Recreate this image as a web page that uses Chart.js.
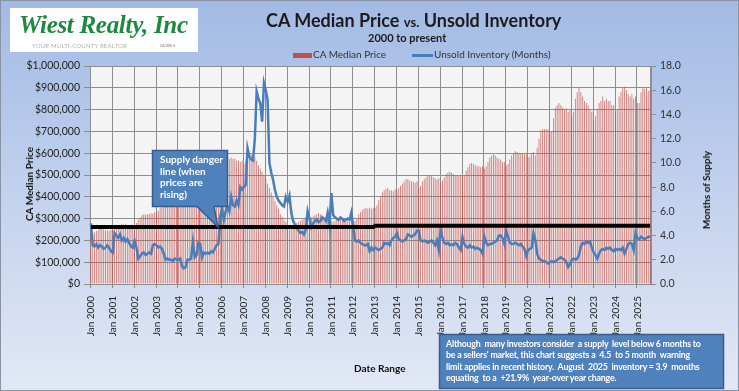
<!DOCTYPE html>
<html>
<head>
<meta charset="utf-8">
<title>CA Median Price vs. Unsold Inventory</title>
<script src="https://cdn.jsdelivr.net/npm/chart.js@4.4.1/dist/chart.umd.min.js"></script>
<style>
  html, body { margin: 0; padding: 0; }
  body { width: 739px; height: 391px; overflow: hidden; font-family: Lato, "Liberation Sans", sans-serif; }
  #wrap { position: relative; width: 739px; height: 391px;
    background: linear-gradient(180deg, #a2bae4 0%, #bccdec 40%, #d3ddf1 75%, #e2e8f5 100%); }
  #chart { position: absolute; left: 0; top: 0; }
  .frame { position: absolute; left: 0; top: 0; width: 737px; height: 389px; border: 1px solid #8a93a6; pointer-events: none; }
  .abs { position: absolute; white-space: nowrap; }
  #logo { left: 10px; top: 8px; width: 188px; height: 44px; background: #fff; }
  #logo .name { left: 9px; top: 3px; font-family: "Liberation Serif", serif; font-style: italic; font-weight: bold;
    font-size: 25px; color: #1c8a3e; letter-spacing: -0.3px; }
  #logo .tag { left: 22px; top: 34px; font-size: 6px; color: #b0b0b0; letter-spacing: 0.2px; }
  #logo .dre { left: 150px; top: 36px; font-size: 3.5px; color: #777; }
  #title { left: 266px; top: 9px; font-size: 18px; font-weight: bold; color: #1b1b1b; }
  #title small { font-size: 13px; }
  #subtitle { left: 368px; top: 31px; font-size: 11px; font-weight: bold; color: #1b1b1b; }
  .leg { font-size: 10px; color: #333; top: 48px; }
  .rot { font-size: 10px; font-weight: bold; color: #111; transform: translate(-50%, -50%) rotate(-90deg); }
  #xtitle { left: 354px; top: 362px; font-size: 10px; font-weight: bold; color: #111; }
  .callout-text { color: #fff; font-weight: bold; font-size: 10px; line-height: 11.6px; }
  #note { left: 446px; top: 338px; color: #fff; font-size: 8.8px; font-weight: bold; letter-spacing: -0.2px;
    line-height: 11.3px; white-space: pre; }
</style>
</head>
<body>
<div id="wrap">
  <canvas id="chart" width="739" height="391"></canvas>

  <div id="logo" class="abs">
    <div class="abs name">Wiest Realty, Inc</div>
    <div class="abs tag">YOUR MULTI-COUNTY REALTOR</div>
    <div class="abs dre">CA DRE #</div>
  </div>

  <div id="title" class="abs">CA Median Price <small>vs.</small> Unsold Inventory</div>
  <div id="subtitle" class="abs">2000 to present</div>

  <div class="abs" style="left:293px;top:53px;width:19px;height:5px;background:#c0504d;"></div>
  <div class="abs leg" style="left:313px;">CA Median Price</div>
  <div class="abs" style="left:412px;top:54px;width:21px;height:3px;background:#4a7ebb;"></div>
  <div class="abs leg" style="left:434px;">Unsold Inventory (Months)</div>

  <div class="abs rot" style="left:29px;top:184px;">CA Median Price</div>
  <div class="abs rot" style="left:706px;top:190px;">Months of Supply</div>
  <div id="xtitle" class="abs">Date Range</div>

  <svg class="abs" style="left:0;top:0;" width="739" height="391">
    <path d="M152.5 150.5 H227.5 V206.5 H214 L218 227 L197 206.5 H152.5 Z" fill="#4f81bd" stroke="#385d8a" stroke-width="1.5"/>
    <rect x="439.5" y="334.5" width="284" height="54" fill="#4f81bd" stroke="#385d8a" stroke-width="1.5"/>
  </svg>
  <div class="abs callout-text" style="left:160px;top:154px;">Supply danger<br>line (when<br>prices are<br>rising)</div>
  <div id="note" class="abs">Although  many investors consider  a supply  level below 6 months to
be a sellers' market, this chart suggests a  4.5  to 5 month  warning
limit applies in recent history.  August  2025  inventory = 3.9  months
equating  to a  +21.9%  year-over year change.</div>

  <div class="frame"></div>
</div>

<script>
// 月份 / 年份
const years = [2000, 2001, 2002, 2003, 2004, 2005, 2006, 2007, 2008, 2009, 2010, 2011, 2012,
  2013, 2014, 2015, 2016, 2017, 2018, 2019, 2020, 2021, 2022, 2023, 2024, 2025];
const monthNames = ['Jan', 'Feb', 'Mar', 'Apr', 'May', 'Jun', 'Jul', 'Aug', 'Sep', 'Oct', 'Nov', 'Dec'];

// CA median price, thousands of dollars (Jan 2000 - Aug 2025)
const medianPriceK = [
  228, 231, 237, 243, 248, 256, 252, 250, 246, 247, 244, 250,
  248, 252, 260, 265, 270, 276, 272, 275, 270, 266, 265, 270,
  272, 280, 295, 305, 315, 320, 318, 320, 320, 325, 322, 330,
  328, 335, 350, 362, 370, 380, 385, 390, 395, 400, 397, 410,
  400, 410, 428, 445, 460, 470, 466, 462, 456, 455, 450, 460,
  458, 465, 490, 505, 515, 530, 530, 535, 540, 540, 535, 550,
  540, 545, 560, 565, 575, 580, 575, 575, 565, 565, 560, 565,
  550, 565, 575, 590, 594, 590, 580, 565, 545, 530, 515, 500,
  480, 460, 440, 420, 400, 380, 360, 345, 320, 310, 295, 285,
  270, 255, 260, 265, 270, 280, 285, 290, 295, 300, 305, 305,
  300, 305, 310, 315, 320, 325, 320, 315, 305, 305, 300, 305,
  290, 285, 290, 295, 300, 305, 300, 295, 290, 290, 285, 290,
  285, 290, 300, 320, 330, 340, 345, 350, 345, 350, 345, 350,
  350, 360, 385, 400, 420, 430, 435, 440, 430, 430, 425, 435,
  430, 440, 450, 460, 470, 480, 480, 475, 470, 470, 465, 470,
  440, 450, 470, 480, 490, 500, 500, 495, 490, 485, 480, 485,
  465, 475, 490, 505, 510, 515, 510, 505, 500, 500, 495, 500,
  490, 500, 520, 535, 550, 555, 550, 545, 540, 540, 535, 540,
  530, 540, 560, 580, 590, 595, 590, 580, 575, 570, 560, 560,
  545, 550, 570, 590, 600, 610, 605, 600, 595, 600, 595, 600,
  580, 585, 600, 605, 590, 625, 665, 705, 710, 710, 710, 710,
  700, 700, 760, 810, 820, 830, 820, 810, 800, 805, 790, 800,
  770, 790, 850, 880, 900, 880, 860, 840, 830, 820, 800, 790,
  750, 770, 800, 830, 840, 860, 840, 850, 840, 840, 820, 820,
  790, 800, 860, 880, 900, 905, 890, 870, 860, 870, 850, 860,
  830, 830, 880, 900, 895, 900, 885, 890
];

// unsold inventory, months of supply
const unsoldInventory = [
  5.0, 3.2, 3.1, 3.3, 3.0, 3.2, 3.1, 2.9, 3.0, 3.2, 3.0, 2.7,
  2.6, 4.2, 4.0, 3.8, 4.1, 3.6, 3.8, 3.5, 3.7, 3.4, 3.1, 3.0,
  3.6, 3.0, 2.1, 2.3, 2.5, 2.6, 2.4, 2.5, 2.6, 2.5, 3.2, 3.3,
  3.2, 3.0, 3.1, 2.9, 2.5, 2.0, 2.1, 2.0, 2.0, 1.9, 2.1, 2.0,
  2.0, 2.1, 1.5, 1.3, 1.4, 2.0, 2.0, 2.1, 3.5, 2.2, 2.4, 3.4,
  3.3, 2.2, 2.6, 2.5, 2.6, 2.5, 2.7, 2.6, 2.9, 3.2, 3.3, 5.6,
  6.2, 5.3, 6.0, 6.4, 6.0, 7.2, 6.5, 6.4, 6.9, 6.5, 8.0, 7.8,
  8.0, 8.2, 11.2, 10.5, 10.3, 10.2, 12.0, 15.9, 15.3, 14.9, 13.4, 16.6,
  16.0, 15.2, 10.0, 9.2, 8.6, 7.8, 7.2, 6.9, 6.7, 6.5, 6.4, 7.2,
  6.8, 7.3, 5.9, 5.2, 4.9, 4.7, 4.4, 4.2, 4.3, 4.1, 4.5, 6.0,
  5.4, 4.7, 5.0, 5.2, 5.3, 5.1, 5.2, 5.5, 5.4, 5.2, 5.9, 4.9,
  7.5, 5.7, 5.5, 5.4, 5.3, 5.5, 5.4, 5.2, 5.3, 5.4, 5.3, 5.9,
  4.7, 3.6, 3.5, 3.6, 3.4, 3.3, 3.2, 3.2, 3.3, 2.7, 3.0, 2.8,
  3.0, 2.9, 2.8, 2.9, 3.0, 3.4, 3.3, 3.4, 3.2, 3.6, 3.8, 3.9,
  4.2, 3.7, 3.6, 3.5, 3.6, 3.7, 4.1, 4.0, 3.9, 4.0, 4.1, 4.4,
  4.4, 3.6, 3.5, 3.6, 3.5, 3.4, 3.5, 3.6, 3.4, 3.2, 3.6, 2.8,
  4.5, 3.8, 3.4, 3.3, 3.4, 3.2, 3.3, 3.2, 3.4, 3.3, 3.0, 2.8,
  3.9, 3.3, 3.1, 3.0, 3.2, 3.0, 3.1, 2.9, 3.0, 2.9, 2.8, 2.5,
  3.9, 3.4, 3.2, 3.3, 3.3, 3.4, 3.5, 3.6, 4.0, 4.0, 3.8, 3.3,
  4.4, 3.9, 3.4, 3.3, 3.3, 3.4, 3.3, 3.2, 3.3, 3.1, 2.9, 2.3,
  2.8, 2.9, 3.0, 4.2, 3.6, 2.5, 2.1, 2.0, 1.9, 1.9, 1.8, 1.7,
  1.8, 1.9, 1.8, 1.9, 2.0, 2.1, 2.2, 2.1, 2.0, 1.8, 1.4, 1.6,
  2.0, 2.1, 2.0, 2.1, 2.4, 3.1, 3.4, 3.3, 3.5, 3.4, 3.5, 3.0,
  2.6, 2.4, 2.1, 2.5, 2.8, 2.9, 2.8, 3.0, 2.9, 3.0, 2.8, 2.7,
  2.9, 2.8, 2.9, 2.8, 3.0, 2.5, 2.9, 3.3, 3.4, 3.3, 2.8, 4.2,
  3.8, 3.7, 3.9, 3.8, 3.7, 3.8, 3.9, 3.9
];

// supply danger line (months)
const dangerLine = [
  { x: 'Jan 2000', y: 4.7 },
  { x: 'Dec 2012', y: 4.7 },
  { x: 'Jan 2013', y: 4.8 },
  { x: 'Aug 2025', y: 4.8 }
];

// axis ticks
const priceTicksK = [0, 100, 200, 300, 400, 500, 600, 700, 800, 900, 1000];
const supplyTicks = [0, 2, 4, 6, 8, 10, 12, 14, 16, 18];

const labels = [];
years.forEach(y => monthNames.forEach(m => labels.push(m + ' ' + y)));
labels.length = medianPriceK.length;

const gridGray = '#8e8e8e';

// 绘图区背景
const plotBg = {
  id: 'plotBg',
  beforeDraw(chart) {
    const { ctx, chartArea: a } = chart;
    ctx.save();
    ctx.fillStyle = '#f4f4f4';
    ctx.fillRect(a.left, a.top, a.right - a.left, a.bottom - a.top);
    ctx.restore();
  }
};

// 每年一条竖向网格线 (在一月柱的左边缘)
const yearGrid = {
  id: 'yearGrid',
  beforeDatasetsDraw(chart) {
    const { ctx, chartArea: a, scales } = chart;
    const xs = scales.x;
    ctx.save();
    ctx.strokeStyle = gridGray;
    ctx.lineWidth = 1;
    ctx.beginPath();
    for (let i = 0; i <= labels.length; i += 12) {
      const px = Math.round(xs.getPixelForValue(i - 0.5)) + 0.5;
      ctx.moveTo(px, a.top);
      ctx.lineTo(px, a.bottom + 4);
    }
    ctx.moveTo(a.right - 0.5, a.top);
    ctx.lineTo(a.right - 0.5, a.bottom);
    ctx.stroke();
    ctx.restore();
  }
};

new Chart(document.getElementById('chart'), {
  type: 'bar',
  data: {
    labels: labels,
    datasets: [
      {
        type: 'line',
        label: 'Supply danger line',
        data: dangerLine,
        yAxisID: 'y1',
        borderColor: '#000',
        borderWidth: 4,
        pointRadius: 0,
        order: 1
      },
      {
        type: 'line',
        label: 'Unsold Inventory (Months)',
        data: unsoldInventory,
        yAxisID: 'y1',
        borderColor: '#4a7ebb',
        borderWidth: 2.5,
        pointRadius: 0,
        tension: 0,
        order: 2
      },
      {
        label: 'CA Median Price',
        data: medianPriceK,
        yAxisID: 'y',
        backgroundColor: 'rgba(192, 80, 77, 0.72)',
        barPercentage: 0.5,
        categoryPercentage: 1,
        order: 3
      }
    ]
  },
  options: {
    responsive: false,
    animation: false,
    devicePixelRatio: 1,
    layout: { padding: { top: 66, left: 0, right: 0, bottom: 0 } },
    plugins: {
      legend: { display: false },
      tooltip: { enabled: false }
    },
    scales: {
      x: {
        offset: true,
        grid: { display: false },
        border: { color: gridGray },
        ticks: {
          autoSkip: false,
          minRotation: 90,
          maxRotation: 90,
          padding: 4,
          color: '#222',
          font: { family: 'Lato', size: 10 },
          callback: (v, i) => (i % 12 === 0 ? labels[i] : '')
        },
        afterFit: s => { s.height = 107; }
      },
      y: {
        position: 'left',
        min: 0,
        max: 1000,
        afterBuildTicks: s => { s.ticks = priceTicksK.map(v => ({ value: v })); },
        grid: { color: gridGray, tickLength: 6 },
        border: { color: gridGray },
        ticks: {
          padding: 4,
          color: '#222',
          font: { family: 'Lato', size: 10.5 },
          callback: v => (v === 0 ? '$0' : '$' + v.toLocaleString('en-US') + ',000')
        },
        afterFit: s => { s.width = 90; }
      },
      y1: {
        position: 'right',
        min: 0,
        max: 18,
        afterBuildTicks: s => { s.ticks = supplyTicks.map(v => ({ value: v })); },
        grid: { drawOnChartArea: false, color: gridGray, tickLength: 5 },
        border: { color: gridGray },
        ticks: {
          padding: 4,
          color: '#333',
          font: { family: 'Lato', size: 10.5 },
          callback: v => v.toFixed(1)
        },
        afterFit: s => { s.width = 88; }
      }
    }
  },
  plugins: [plotBg, yearGrid]
});
</script>
</body>
</html>
